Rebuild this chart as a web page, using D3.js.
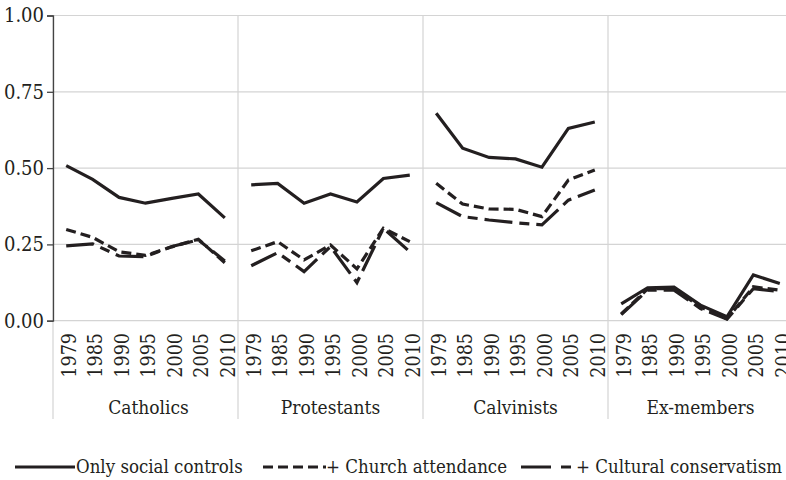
<!DOCTYPE html>
<html>
<head>
<meta charset="utf-8">
<script src="https://cdn.jsdelivr.net/npm/d3@7"></script>
<style>
    body { margin: 0; background: #fff; }
    svg text { font-family: "DejaVu Serif Condensed", "DejaVu Serif", serif !important; font-stretch: condensed; fill: #231f20; }
</style>
</head>
<body>
<div id="chart"></div>
<script>
// Chart data
const groups = ["Catholics", "Protestants", "Calvinists", "Ex-members"];
const years = ["1979", "1985", "1990", "1995", "2000", "2005", "2010"];
const yTicks = [0, 0.25, 0.5, 0.75, 1];

// one row per group, one value per year
const onlySocialControls = [
    [0.508, 0.463, 0.404, 0.385, 0.401, 0.415, 0.337],
    [0.445, 0.450, 0.385, 0.415, 0.389, 0.466, 0.477],
    [0.680, 0.565, 0.535, 0.530, 0.503, 0.630, 0.651],
    [0.055, 0.108, 0.110, 0.051, 0.013, 0.150, 0.122]
];
const churchAttendance = [
    [0.299, 0.273, 0.226, 0.214, 0.242, 0.267, 0.190],
    [0.229, 0.259, 0.199, 0.248, 0.170, 0.303, 0.259],
    [0.450, 0.382, 0.366, 0.365, 0.341, 0.461, 0.494],
    [0.022, 0.104, 0.106, 0.045, 0.006, 0.111, 0.100]
];
const culturalConservatism = [
    [0.245, 0.252, 0.212, 0.210, 0.243, 0.265, 0.196],
    [0.180, 0.223, 0.161, 0.243, 0.125, 0.303, 0.226],
    [0.387, 0.341, 0.330, 0.321, 0.314, 0.395, 0.428],
    [0.020, 0.100, 0.100, 0.040, 0.005, 0.105, 0.095]
];

const seriesList = [
    {name: "Only social controls", values: onlySocialControls, dash: null},
    {name: "+ Church attendance", values: churchAttendance, dash: "10,5"},
    {name: "+ Cultural conservatism", values: culturalConservatism, dash: "28,7,10,7"}
];

const width = 786, height = 480;
const margin = {top: 15.5, left: 53, bottom: 159.3}; // plot runs past the right edge
const plotRight = 793;
const plotBottom = height - margin.bottom;
const ink = "#231f20", grid = "#d4d4d4";

const svg = d3.select("#chart").append("svg")
    .attr("width", width)
    .attr("height", height);

const xGroup = d3.scaleBand()
    .domain(groups)
    .range([margin.left, plotRight])
    .padding(0);
const xYear = d3.scalePoint()
    .domain(years)
    .range([0, xGroup.bandwidth()])
    .padding(0.5);
const y = d3.scaleLinear()
    .domain([0, 1])
    .range([plotBottom, margin.top]);

// horizontal grid lines
svg.append("g").selectAll("line")
    .data(yTicks)
    .enter().append("line")
        .attr("x1", margin.left)
        .attr("x2", plotRight)
        .attr("y1", d => y(d))
        .attr("y2", d => y(d))
        .attr("stroke", grid)
        .attr("stroke-width", 1.2);

// panel separators (reach down past the category labels)
svg.append("g").selectAll("line")
    .data(groups.concat(["end"]))
    .enter().append("line")
        .attr("x1", (d, i) => margin.left + i * xGroup.bandwidth())
        .attr("x2", (d, i) => margin.left + i * xGroup.bandwidth())
        .attr("y1", margin.top)
        .attr("y2", 419)
        .attr("stroke", grid)
        .attr("stroke-width", 1.2);

// y axis
const yAxis = svg.append("g")
    .attr("transform", `translate(${margin.left},0)`)
    .call(d3.axisLeft(y).tickValues(yTicks).tickFormat(d3.format(".2f")).tickSize(6).tickPadding(3));
yAxis.attr("font-family", null);
yAxis.select(".domain").attr("stroke", "#444").attr("stroke-width", 1.3);
yAxis.selectAll(".tick line").attr("stroke", "#444").attr("stroke-width", 1.3);
yAxis.selectAll("text")
    .style("font-size", "20px")
    .attr("fill", ink);

// one panel per group
const panels = svg.selectAll(".panel")
    .data(groups)
    .enter().append("g")
        .attr("class", "panel")
        .attr("transform", d => `translate(${xGroup(d)},0)`);

panels.selectAll(".year")
    .data(years)
    .enter().append("text")
        .attr("class", "year")
        .attr("transform", d => `translate(${xYear(d) + 3},333) rotate(-90)`)
        .attr("text-anchor", "end")
        .attr("dy", "0.35em")
        .style("font-size", "19.5px")
        .text(d => d);

panels.append("text")
    .attr("x", (d, i) => xGroup.bandwidth() / 2 + (i === 0 ? 3 : 0))
    .attr("y", 414)
    .attr("text-anchor", "middle")
    .style("font-size", "19px")
    .text(d => d);

const line = d3.line()
    .x((d, i) => xYear(years[i]))
    .y(d => y(d));

seriesList.forEach(s => {
    panels.append("path")
        .attr("d", (d, gi) => line(s.values[gi]))
        .attr("fill", "none")
        .attr("stroke", ink)
        .attr("stroke-width", 3.2)
        .attr("stroke-dasharray", s.dash);
});

// legend
const legendItems = [
    {x1: 15, x2: 75, tx: 76},
    {x1: 263, x2: 326, tx: 326},
    {x1: 521, x2: 574, tx: 576}
];
const legend = svg.append("g").attr("transform", "translate(0,467)");
seriesList.forEach((s, i) => {
    const it = legendItems[i];
    legend.append("line")
        .attr("x1", it.x1).attr("x2", it.x2)
        .attr("y1", 0).attr("y2", 0)
        .attr("stroke", ink)
        .attr("stroke-width", 3.2)
        .attr("stroke-dasharray", i === 2 ? "30,10,10,10" : s.dash);
    legend.append("text")
        .attr("x", it.tx)
        .attr("y", 0)
        .attr("dy", "0.35em")
        .style("font-size", "18.5px")
        .text(s.name);
});
</script>
</body>
</html>
